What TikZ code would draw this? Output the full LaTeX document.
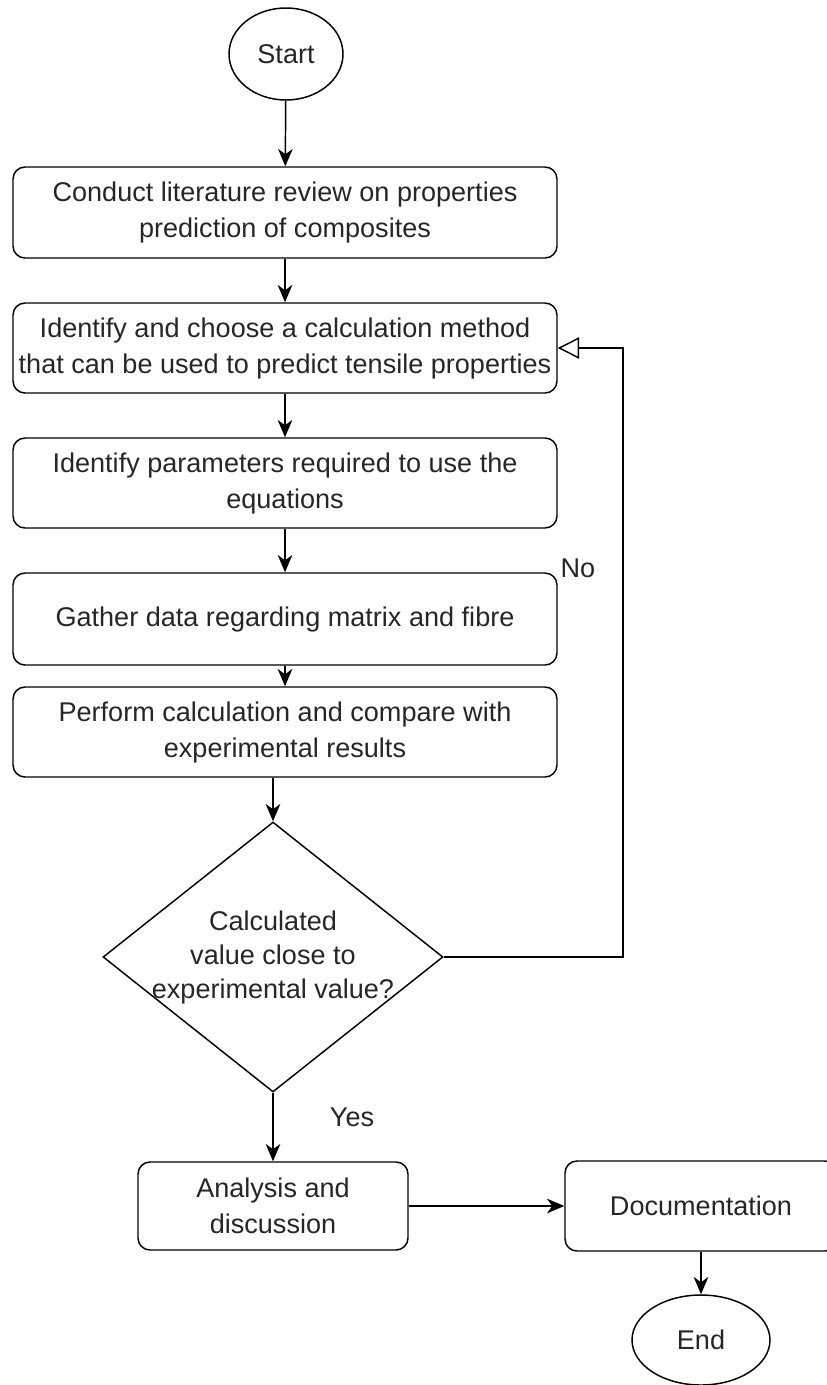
\documentclass[tikz,border=0pt]{standalone}
\usepackage{fontspec}
\setmainfont{Liberation Sans}
\usetikzlibrary{arrows.meta}
\usetikzlibrary{shapes.geometric}

\tikzset{
  stepbox/.style={draw, rounded corners=9pt, align=center, inner sep=0pt},
  terminal/.style={draw, ellipse, inner sep=0pt},
  flow/.style={-{Stealth[length=13pt,width=11pt,inset=4pt]}},
  back/.style={-{Triangle[open,length=16pt,width=16pt]}}
}

\begin{document}
\begin{tikzpicture}[x=0.75pt,y=-0.75pt,line width=1.1pt,
  every node/.style={font=\fontsize{20.3pt}{27pt}\selectfont, text=black!85}]
\useasboundingbox (0,0) rectangle (827,1385);
% debut
\node[terminal, minimum width=85.5pt, minimum height=69pt] (start) at (286,54) {Start};
% colonne des etapes
\node[stepbox, minimum width=408pt, minimum height=68.25pt] (lit) at (285,212.5)
  {Conduct literature review on properties\\prediction of composites};
\node[stepbox, minimum width=408pt, minimum height=67.5pt] (meth) at (285,348)
  {Identify and choose a calculation method\\that can be used to predict tensile properties};
\node[stepbox, minimum width=408pt, minimum height=67.5pt] (param) at (285,483)
  {Identify parameters required to use the\\equations};
\node[stepbox, minimum width=408pt, minimum height=69pt] (data) at (285,619)
  {Gather data regarding matrix and fibre};
\node[stepbox, minimum width=408pt, minimum height=67.5pt] (calc) at (285,732)
  {Perform calculation and compare with\\experimental results};
% test
\node[draw, diamond, aspect=1.26, inner sep=-5pt, minimum width=255pt, minimum height=202.5pt,
  align=center, font=\fontsize{20.3pt}{25.5pt}\selectfont] (test) at (273,957)
  {Calculated\\value close to\\experimental value?};
% fin
\node[stepbox, minimum width=202.5pt, minimum height=66pt] (ana) at (273,1206)
  {Analysis and\\discussion};
\node[stepbox, minimum width=204pt, minimum height=67.5pt] (doc) at (701,1206)
  {Documentation};
\node[terminal, minimum width=103.5pt, minimum height=67.5pt] (end) at (701,1340) {End};
\coordinate (turn) at (623,957);
% fleches
\draw[flow] (start) -- (lit);
\draw[flow] (lit) -- (meth);
\draw[flow] (meth) -- (param);
\draw[flow] (param) -- (data);
\draw[flow] (data) -- (calc);
\draw[flow] (test.north |- calc.south) -- (test.north);
\draw[flow] (test.south) -- (ana.north);
\draw[flow] (ana.east) -- (doc.west);
\draw[flow] (doc) -- (end);
\draw[back] (test.east) -- (turn) |- (meth.east);
% labels
\node (no) at (578,568) {No};
\node (yes) at (352,1117) {Yes};
\end{tikzpicture}
\end{document}
